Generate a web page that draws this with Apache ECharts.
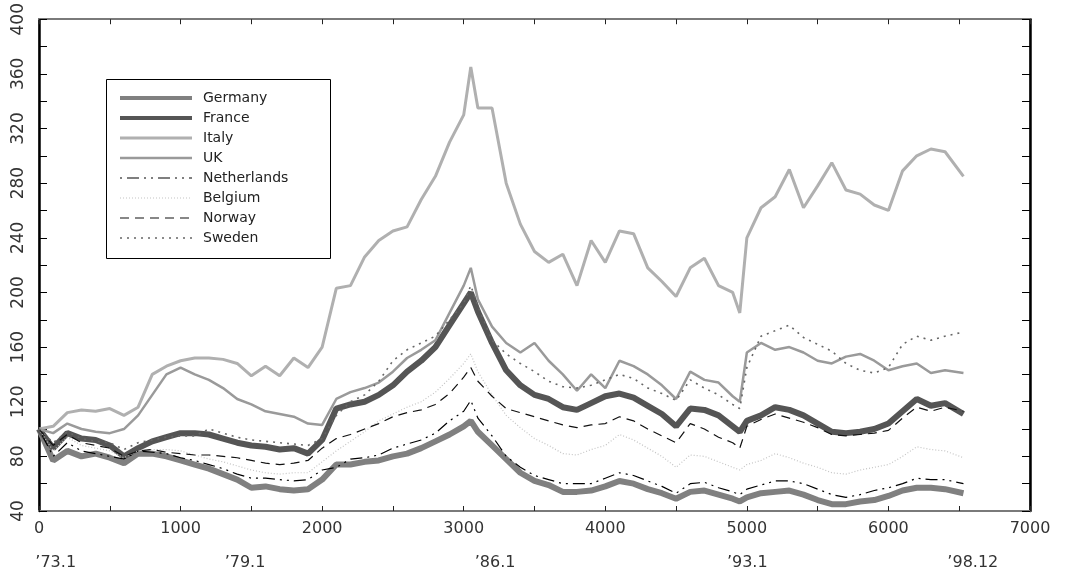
<!DOCTYPE html>
<html>
<head>
<meta charset="utf-8">
<title>Exchange rate indices 1973.1 = 100</title>
<script src="https://cdn.jsdelivr.net/npm/echarts@6.0.0/dist/echarts.min.js"></script>
<style>
  html, body { margin: 0; padding: 0; background: #fff; }
  #chart { width: 1073px; height: 580px; }
</style>
</head>
<body>
<div id="chart"></div>
<script>
// Trading-day index of each sample
const days = [0,100,200,300,400,500,600,700,800,900,
  1000,1100,1200,1300,1400,1500,1600,1700,1800,1900,
  2000,2100,2200,2300,2400,2500,2600,2700,2800,2900,
  3000,3050,3100,3200,3300,3400,3500,3600,3700,3800,
  3900,4000,4100,4200,4300,4400,4500,4600,4700,4800,
  4900,4950,5000,5100,5200,5300,5400,5500,5600,5700,
  5800,5900,6000,6100,6200,6300,6400,6530];

// Index values (1973.1 = 100)
const germany = [100,77,84,80,82,79,75,82,82,80,
  77,74,71,67,63,57,58,56,55,56,
  63,74,74,76,77,80,82,86,91,96,
  102,106,98,88,78,68,62,59,54,54,
  55,58,62,60,56,53,49,54,55,52,
  49,47,50,53,54,55,52,48,45,45,
  47,48,51,55,57,57,56,53];
const france = [100,86,97,93,92,88,80,86,91,94,
  97,97,96,93,90,88,87,85,86,82,
  92,115,118,120,125,132,142,150,160,176,
  192,200,186,163,143,132,125,122,116,114,
  119,124,126,123,117,111,102,115,114,110,
  102,98,106,110,116,114,110,104,98,97,
  98,100,104,113,122,117,119,111];
const italy = [100,102,112,114,113,115,110,116,140,146,
  150,152,152,151,148,139,146,139,152,145,
  160,203,205,226,238,245,248,268,285,310,
  330,365,335,335,280,250,230,222,228,205,
  238,222,245,243,218,208,197,218,225,205,
  200,185,240,262,270,290,262,278,295,275,
  272,264,260,289,300,305,303,285];
const uk = [100,97,104,100,98,97,100,110,125,140,
  145,140,136,130,122,118,113,111,109,104,
  103,122,127,130,134,142,152,158,165,185,
  205,218,195,175,163,156,163,150,140,128,
  140,130,150,146,140,132,122,142,136,134,
  124,120,156,163,158,160,156,150,148,153,
  155,150,143,146,148,141,143,141];
const netherlands = [100,80,90,84,82,80,78,84,83,82,
  79,77,74,71,67,64,64,63,62,63,
  70,72,78,79,81,86,89,92,97,106,
  113,121,108,95,80,72,66,63,60,60,
  60,64,68,66,62,58,53,60,61,57,
  54,52,56,59,62,62,60,56,52,50,
  52,55,57,60,64,63,63,60];
const belgium = [100,84,94,88,86,84,79,84,85,85,
  84,81,78,76,73,70,68,67,68,68,
  76,84,91,98,106,111,116,120,127,137,
  148,155,142,125,110,101,93,88,82,81,
  85,88,96,92,86,80,72,81,80,76,
  72,70,74,77,82,79,75,72,68,67,
  70,72,74,80,87,85,84,79];
const norway = [100,88,96,90,88,86,80,84,85,83,
  82,81,81,80,79,77,75,74,75,77,
  86,93,96,100,104,109,112,114,118,126,
  138,145,135,124,115,112,109,106,103,101,
  103,104,109,106,100,95,90,104,100,94,
  90,86,102,107,111,108,105,101,96,95,
  96,97,99,108,116,113,116,113];
const sweden = [100,90,98,93,91,90,85,90,92,94,
  95,95,100,97,94,92,91,90,89,88,
  93,110,120,125,135,150,158,163,168,180,
  192,205,190,165,155,148,142,135,131,130,
  132,136,140,137,130,126,121,136,130,125,
  118,115,145,168,172,176,167,162,157,148,
  143,141,145,162,168,165,168,171];

// Calendar labels placed under the trading-day axis
const dateDays = [118, 1455, 3222, 5003, 6596];
const dateLabels = ['\u201973.1', '\u201979.1', '\u201986.1', '\u201993.1', '\u201998.12'];

const FONT = 'DejaVu Sans';

// Line styles per country (plot and legend sample)
const styles = {
  Germany:     { color: '#808080', width: 6 },
  France:      { color: '#555555', width: 6 },
  Italy:       { color: '#b0b0b0', width: 3 },
  UK:          { color: '#9a9a9a', width: 2.5 },
  Netherlands: { color: '#000000', width: 1.2, type: [2, 5, 12, 5, 2, 5] },
  Belgium:     { color: '#c4c4c4', width: 1.2, type: [1, 2] },
  Norway:      { color: '#111111', width: 1.2, type: [9, 6] },
  Sweden:      { color: '#666666', width: 1.6, type: [2, 5] }
};

function pairs(values) {
  return days.map((d, i) => [d, values[i]]);
}

function makeSeries(name, values, z) {
  const ls = Object.assign({}, styles[name]);
  return {
    name: name,
    type: 'line',
    data: pairs(values),
    xAxisIndex: 0,
    yAxisIndex: 0,
    symbol: 'none',
    showSymbol: false,
    lineStyle: ls,
    itemStyle: { color: ls.color },
    z: z,
    animation: false
  };
}

// Day axes: a tick every 500 days, a number every 1000
function xAxisFrame(position) {
  return {
    type: 'value', min: 0, max: 7000, interval: 500, position: position,
    axisLine: { show: true, onZero: false, lineStyle: { color: '#7a7a7a', width: 2 } },
    axisTick: { show: true, inside: true, length: 5, lineStyle: { color: '#222', width: 1 } },
    splitLine: { show: false }
  };
}

function yAxisFrame(position) {
  return {
    type: 'value', min: 40, max: 400, interval: 40, position: position,
    axisLine: { show: true, onZero: false, lineStyle: { color: '#000', width: 2.5 } },
    axisTick: { show: true, inside: true, length: 8, lineStyle: { color: '#000', width: 1 } },
    minorTick: { show: true, splitNumber: 2, length: 8, lineStyle: { color: '#000', width: 1 } },
    splitLine: { show: false },
    minorSplitLine: { show: false }
  };
}

const xBottom = xAxisFrame('bottom');
xBottom.axisLabel = {
  show: true, margin: 10, fontSize: 16, color: '#333', fontFamily: FONT,
  formatter: function (v) { return v % 1000 === 0 ? String(v) : ''; }
};
const xTop = xAxisFrame('top');
xTop.axisLabel = { show: false };

const xDates = {
  type: 'value', min: 0, max: 7000, position: 'bottom', offset: 34,
  axisLine: { show: false, onZero: false },
  axisTick: { show: false },
  splitLine: { show: false },
  axisLabel: {
    show: true, margin: 10, fontSize: 16, color: '#333', fontFamily: FONT,
    customValues: dateDays,
    formatter: function (v) {
      const i = dateDays.indexOf(v);
      return i >= 0 ? dateLabels[i] : '';
    }
  }
};

const yLeft = yAxisFrame('left');
yLeft.axisLabel = {
  show: true, rotate: 90, margin: 12, fontSize: 17, color: '#333', fontFamily: FONT,
  formatter: function (v) { return String(v); }
};
const yRight = yAxisFrame('right');
yRight.axisLabel = { show: false };

const names = ['Germany', 'France', 'Italy', 'UK', 'Netherlands', 'Belgium', 'Norway', 'Sweden'];

const chart = echarts.init(document.getElementById('chart'), null, { renderer: 'canvas' });
chart.setOption({
  backgroundColor: '#fff',
  animation: false,
  grid: {
    left: 39, right: 43, top: 19, bottom: 69, containLabel: false,
    show: true, borderColor: '#7a7a7a', borderWidth: 1.5, backgroundColor: 'transparent'
  },
  xAxis: [xBottom, xTop, xDates],
  yAxis: [yLeft, yRight],
  legend: {
    orient: 'vertical',
    left: 118,
    top: 91,
    padding: 0,
    itemWidth: 72,
    itemHeight: 14,
    itemGap: 6,
    selectedMode: false,
    z: 10,
    itemStyle: { opacity: 0 },
    textStyle: { fontSize: 14, color: '#222', fontFamily: FONT, padding: [0, 0, 0, 6] },
    data: names.map(n => ({
      name: n,
      itemStyle: { opacity: 0 },
      lineStyle: Object.assign({}, styles[n], { width: Math.min(styles[n].width, 4) })
    }))
  },
  graphic: [
    {
      type: 'rect', left: 106, top: 79, z: 5,
      shape: { width: 224, height: 179 },
      style: { fill: '#fff', stroke: '#000', lineWidth: 1 }
    }
  ],
  series: [
    makeSeries('Germany', germany, 2),
    makeSeries('France', france, 2),
    makeSeries('Italy', italy, 3),
    makeSeries('UK', uk, 3),
    makeSeries('Netherlands', netherlands, 4),
    makeSeries('Belgium', belgium, 4),
    makeSeries('Norway', norway, 4),
    makeSeries('Sweden', sweden, 4)
  ]
});
</script>
</body>
</html>
